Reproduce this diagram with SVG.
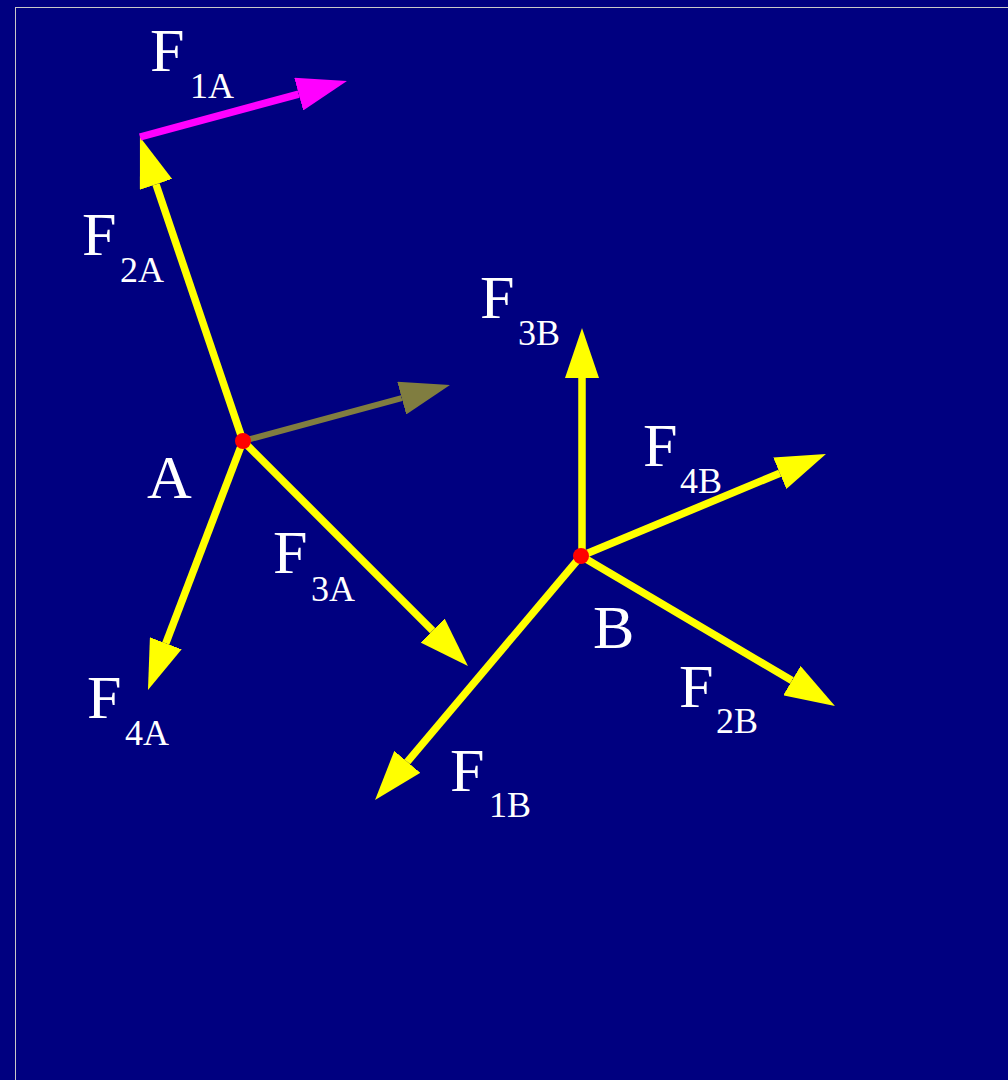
<svg xmlns="http://www.w3.org/2000/svg" width="1008" height="1080" viewBox="0 0 1008 1080">
<style>
  .v { fill: none; stroke-width: 7.5; stroke-linecap: butt; }
  .y { stroke: #ffff00; marker-end: url(#hy); }
  .m { stroke: #ff00ff; marker-end: url(#hm); }
  .g { stroke: #807d40; stroke-width: 6; marker-end: url(#hg); }
  .dot { fill: #ff0000; }
  text { font-family: "Liberation Serif", "Times New Roman", serif; fill: #ffffff; }
  .big { font-size: 62px; }
  .sub { font-size: 36px; }
</style>
<defs>
  <marker id="hy" markerUnits="userSpaceOnUse" markerWidth="50" markerHeight="34" viewBox="0 0 50 34" refX="0" refY="17" orient="auto"><path d="M0,0 L50,17 L0,34 z" fill="#ffff00"/></marker>
  <marker id="hm" markerUnits="userSpaceOnUse" markerWidth="50" markerHeight="34" viewBox="0 0 50 34" refX="0" refY="17" orient="auto"><path d="M0,0 L50,17 L0,34 z" fill="#ff00ff"/></marker>
  <marker id="hg" markerUnits="userSpaceOnUse" markerWidth="50" markerHeight="34" viewBox="0 0 50 34" refX="0" refY="17" orient="auto"><path d="M0,0 L50,17 L0,34 z" fill="#807d40"/></marker>
</defs>
<rect x="0" y="0" width="1008" height="1080" fill="#000080"/>
<rect x="15.5" y="7.5" width="1000" height="1080" fill="none" stroke="#c8c8c8" stroke-width="1"/>
<g id="connectors">
  <path id="f2a" class="v y" d="M243,441 L156,184.4"/>
  <path id="f1a" class="v m" d="M140,137 L298.7,94.1"/>
  <path id="resultant" class="v g" d="M243,441 L401.7,398.1"/>
  <path id="f3a" class="v y" d="M243,441 L432.6,630.6"/>
  <path id="f4a" class="v y" d="M243,441 L165.8,643.3"/>
  <path id="f3b" class="v y" d="M582,556 L582,378"/>
  <path id="f4b" class="v y" d="M581,556 L779.8,473.2"/>
  <path id="f2b" class="v y" d="M581,556 L791.9,680.6"/>
  <path id="f1b" class="v y" d="M581,556 L407.3,761.8"/>
</g>
<g id="nodeA">
  <circle class="dot" cx="243" cy="441" r="8"/>
  <text class="big" x="147" y="498">A</text>
</g>
<g id="nodeB">
  <circle class="dot" cx="581" cy="556" r="8"/>
  <text class="big" x="593" y="648">B</text>
</g>
<g id="labels">
  <g id="label-f1a"><text class="big" x="150" y="71">F</text><text class="sub" x="190" y="98">1A</text></g>
  <g id="label-f2a"><text class="big" x="82" y="255">F</text><text class="sub" x="120" y="282">2A</text></g>
  <g id="label-f3a"><text class="big" x="273" y="573">F</text><text class="sub" x="311" y="601">3A</text></g>
  <g id="label-f4a"><text class="big" x="87" y="718">F</text><text class="sub" x="125" y="745">4A</text></g>
  <g id="label-f3b"><text class="big" x="480" y="318">F</text><text class="sub" x="518" y="345">3B</text></g>
  <g id="label-f4b"><text class="big" x="643" y="466">F</text><text class="sub" x="680" y="493">4B</text></g>
  <g id="label-f2b"><text class="big" x="679" y="707">F</text><text class="sub" x="716" y="733">2B</text></g>
  <g id="label-f1b"><text class="big" x="450" y="791">F</text><text class="sub" x="489" y="817">1B</text></g>
</g>
</svg>
